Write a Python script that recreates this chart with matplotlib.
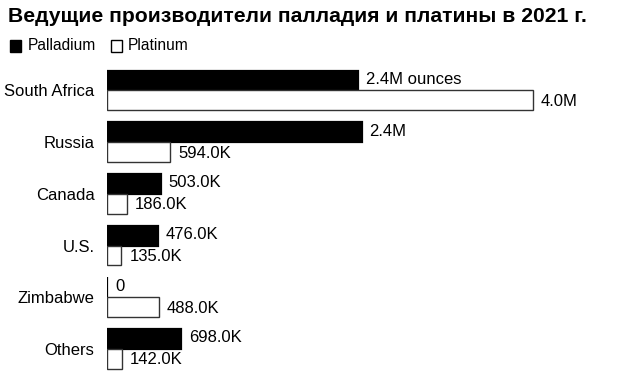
import numpy as np
import matplotlib.pyplot as plt

countries = ["South Africa", "Russia", "Canada", "U.S.", "Zimbabwe", "Others"]
palladium = [2_360_000, 2_390_000, 503_000, 476_000, 0, 698_000]
platinum = [4_000_000, 594_000, 186_000, 135_000, 488_000, 142_000]


def fmt(v):
    if v == 0:
        return "0"
    if v >= 1_000_000:
        return f"{v / 1e6:.1f}M"
    return f"{v / 1e3:.1f}K"


plt.rcParams['font.family'] = ['Liberation Sans', 'DejaVu Sans']

fig = plt.figure(figsize=(6.31, 3.91), dpi=100)
W, H = 631, 391
ax = fig.add_axes([107 / W, 1 - 380 / H, (620 - 107) / W, (380 - 62) / H])

y = np.arange(len(countries))
h = 20 / 52
ax.barh(y - h / 2, palladium, height=h, color="black", edgecolor="black", linewidth=1.6)
ax.barh(y + h / 2, platinum, height=h, color="white", edgecolor="#333333", linewidth=1)

off = 4.0e6 * 8 / 426
for i in range(len(countries)):
    lab = fmt(palladium[i])
    if i == 0:
        lab += " ounces"
    ax.text(palladium[i] + off, y[i] - h / 2 - 0.02, lab, va="center", ha="left", fontsize=12)
    ax.text(platinum[i] + off, y[i] + h / 2 + 0.02, fmt(platinum[i]), va="center", ha="left", fontsize=12)

ax.set_xlim(0, 4.0e6 * (620 - 107) / 426)
ax.set_ylim(len(countries) - 0.5 + 0.1, -0.5 - 0.05)
ax.set_yticks(y)
ax.set_yticklabels(countries, fontsize=12)
ax.tick_params(axis="y", length=0, pad=9)
ax.set_xticks([])
for s in ax.spines.values():
    s.set_visible(False)

fig.text(8 / W, 1 - 17 / H, "Ведущие производители палладия и платины в 2021 г.",
         fontsize=15.2, fontweight="bold", va="center", ha="left")

# legend
fig.patches.append(plt.Rectangle((10 / W, 1 - 52 / H), 11 / W, 12 / H, transform=fig.transFigure,
                                 facecolor="black", edgecolor="black", lw=1))
fig.text(28 / W, 1 - 46 / H, "Palladium", fontsize=11.2, va="center", ha="left")
fig.patches.append(plt.Rectangle((111 / W, 1 - 52 / H), 11 / W, 12 / H, transform=fig.transFigure,
                                 facecolor="white", edgecolor="black", lw=1))
fig.text(128 / W, 1 - 46 / H, "Platinum", fontsize=11.2, va="center", ha="left")

fig.savefig("out.png", dpi=100)
